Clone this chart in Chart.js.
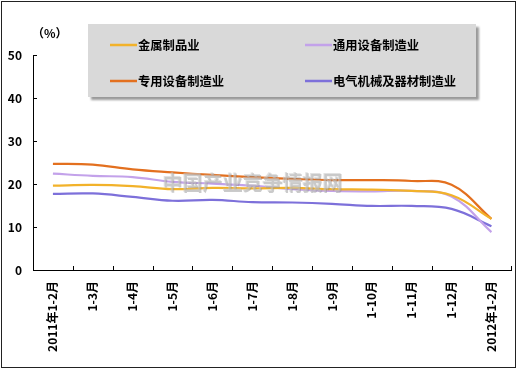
<!DOCTYPE html>
<html>
<head>
<meta charset="utf-8">
<script src="https://cdn.jsdelivr.net/npm/chart.js@4"></script>
<style>
  html, body { margin: 0; padding: 0; background: #fff; }
  #wrap { width: 517px; height: 369px; }
</style>
</head>
<body>
<div id="wrap"><canvas id="c" width="517" height="369"></canvas></div>
<script>
// Period labels (cumulative months)
const periods = ['2011年1-2月', '1-3月', '1-4月', '1-5月', '1-6月', '1-7月', '1-8月', '1-9月', '1-10月', '1-11月', '1-12月', '2012年1-2月'];

// Series values (%)
const metalProducts = [19.6, 19.8, 19.5, 18.8, 19.1, 19.0, 19.1, 18.8, 18.7, 18.4, 17.4, 11.9];
const generalEquipment = [22.4, 21.9, 21.6, 20.5, 20.1, 19.6, 18.8, 18.4, 18.3, 18.4, 17.1, 8.8];
const specialEquipment = [24.7, 24.5, 23.4, 22.7, 22.1, 21.6, 21.2, 20.9, 20.9, 20.7, 19.8, 11.9];
const electricalMachinery = [17.7, 17.8, 17.0, 16.1, 16.3, 15.8, 15.7, 15.4, 14.9, 14.9, 14.2, 10.2];

// Series names
const seriesNames = ['金属制品业', '通用设备制造业', '专用设备制造业', '电气机械及器材制造业'];

// Y axis range
const yMin = 0, yMax = 50, yStep = 10;

const FONT = '"Noto Sans CJK SC", "DejaVu Sans", sans-serif';
const colors = ['#F2B22A', '#C3A2EA', '#E3701F', '#7D70DA'];

// Frame, inward tick marks, legend box and watermark
const decorPlugin = {
  id: 'decor',
  afterDraw(chart) {
    const ctx = chart.ctx;
    const a = chart.chartArea;
    const xs = chart.scales.x, ys = chart.scales.y;
    ctx.save();

    // inward ticks on the y axis
    ctx.strokeStyle = '#000';
    ctx.lineWidth = 1;
    ys.ticks.forEach(t => {
      const y = Math.round(ys.getPixelForValue(t.value)) + 0.5;
      ctx.beginPath();
      ctx.moveTo(a.left, y);
      ctx.lineTo(a.left + 4, y);
      ctx.stroke();
    });
    // inward ticks on the x axis, at category boundaries
    const n = xs.ticks.length;
    const step = (a.right - a.left) / n;
    for (let i = 1; i <= n; i++) {
      const x = Math.round(a.left + i * step) + 0.5;
      ctx.beginPath();
      ctx.moveTo(x, a.bottom);
      ctx.lineTo(x, a.bottom - 4);
      ctx.stroke();
    }

    // unit label
    ctx.fillStyle = '#000';
    ctx.font = 'bold 12px ' + FONT;
    ctx.textAlign = 'left';
    ctx.textBaseline = 'middle';
    ctx.fillText('（%）', 32, 33);

    // legend box with shadow
    const bx = 88, by = 24, bw = 388, bh = 73;
    ctx.fillStyle = '#9a9a9a';
    ctx.filter = 'blur(1px)';
    ctx.fillRect(bx + 3, by + 3, bw, bh);
    ctx.filter = 'none';
    ctx.fillStyle = '#D9D9D9';
    ctx.fillRect(bx, by, bw, bh);

    const cols = [110, 305];
    const rows = [45, 81];
    chart.data.datasets.forEach((ds, i) => {
      const lx = cols[i % 2], ly = rows[Math.floor(i / 2)];
      ctx.strokeStyle = ds.borderColor;
      ctx.lineWidth = 2.5;
      ctx.beginPath();
      ctx.moveTo(lx, ly);
      ctx.lineTo(lx + 27, ly);
      ctx.stroke();
      ctx.fillStyle = '#000';
      ctx.font = 'bold 12.3px ' + FONT;
      ctx.textAlign = 'left';
      ctx.textBaseline = 'middle';
      ctx.fillText(ds.label, lx + 28, ly);
    });

    // watermark
    ctx.font = 'bold 20px ' + FONT;
    ctx.textAlign = 'left';
    ctx.textBaseline = 'middle';
    ctx.fillStyle = 'rgba(140,140,140,0.45)';
    ctx.fillText('中国产业竞争情报网', 163, 183);
    ctx.fillStyle = 'rgba(200,200,200,0.55)';
    ctx.fillText('中国产业竞争情报网', 162, 182);

    // outer frame
    ctx.strokeStyle = '#222';
    ctx.lineWidth = 1;
    ctx.strokeRect(1.5, 1.5, 514, 366);
    ctx.restore();
  }
};

const bgPlugin = {
  id: 'bg',
  beforeDraw(chart) {
    const ctx = chart.ctx;
    ctx.save();
    ctx.fillStyle = '#fff';
    ctx.fillRect(0, 0, chart.width, chart.height);
    ctx.restore();
  }
};

const seriesValues = [metalProducts, generalEquipment, specialEquipment, electricalMachinery];

new Chart(document.getElementById('c'), {
  type: 'line',
  data: {
    labels: periods,
    datasets: seriesValues.map((vals, i) => ({
      label: seriesNames[i],
      data: vals,
      borderColor: colors[i],
      backgroundColor: colors[i],
      borderWidth: 2.2,
      pointRadius: 0,
      tension: 0.4,
      fill: false
    }))
  },
  options: {
    responsive: false,
    animation: false,
    devicePixelRatio: 1,
    layout: { padding: { left: 0, right: 4, top: 55, bottom: 0 } },
    plugins: {
      legend: { display: false },
      tooltip: { enabled: false }
    },
    scales: {
      x: {
        offset: true,
        grid: { display: false, drawTicks: false, offset: true },
        border: { display: true, color: '#000', width: 1 },
        ticks: {
          color: '#000',
          font: { family: FONT, size: 12, weight: 'bold' },
          minRotation: 90,
          maxRotation: 90,
          autoSkip: false,
          padding: 11
        },
        afterFit(scale) { scale.height = 99; }
      },
      y: {
        min: yMin,
        max: yMax,
        grid: { display: false, drawTicks: false },
        border: { display: true, color: '#000', width: 1 },
        ticks: {
          stepSize: yStep,
          color: '#000',
          font: { family: FONT, size: 12, weight: 'bold' },
          padding: 11
        },
        afterFit(scale) { scale.width = 33; }
      }
    }
  },
  plugins: [bgPlugin, decorPlugin]
});
</script>
</body>
</html>
